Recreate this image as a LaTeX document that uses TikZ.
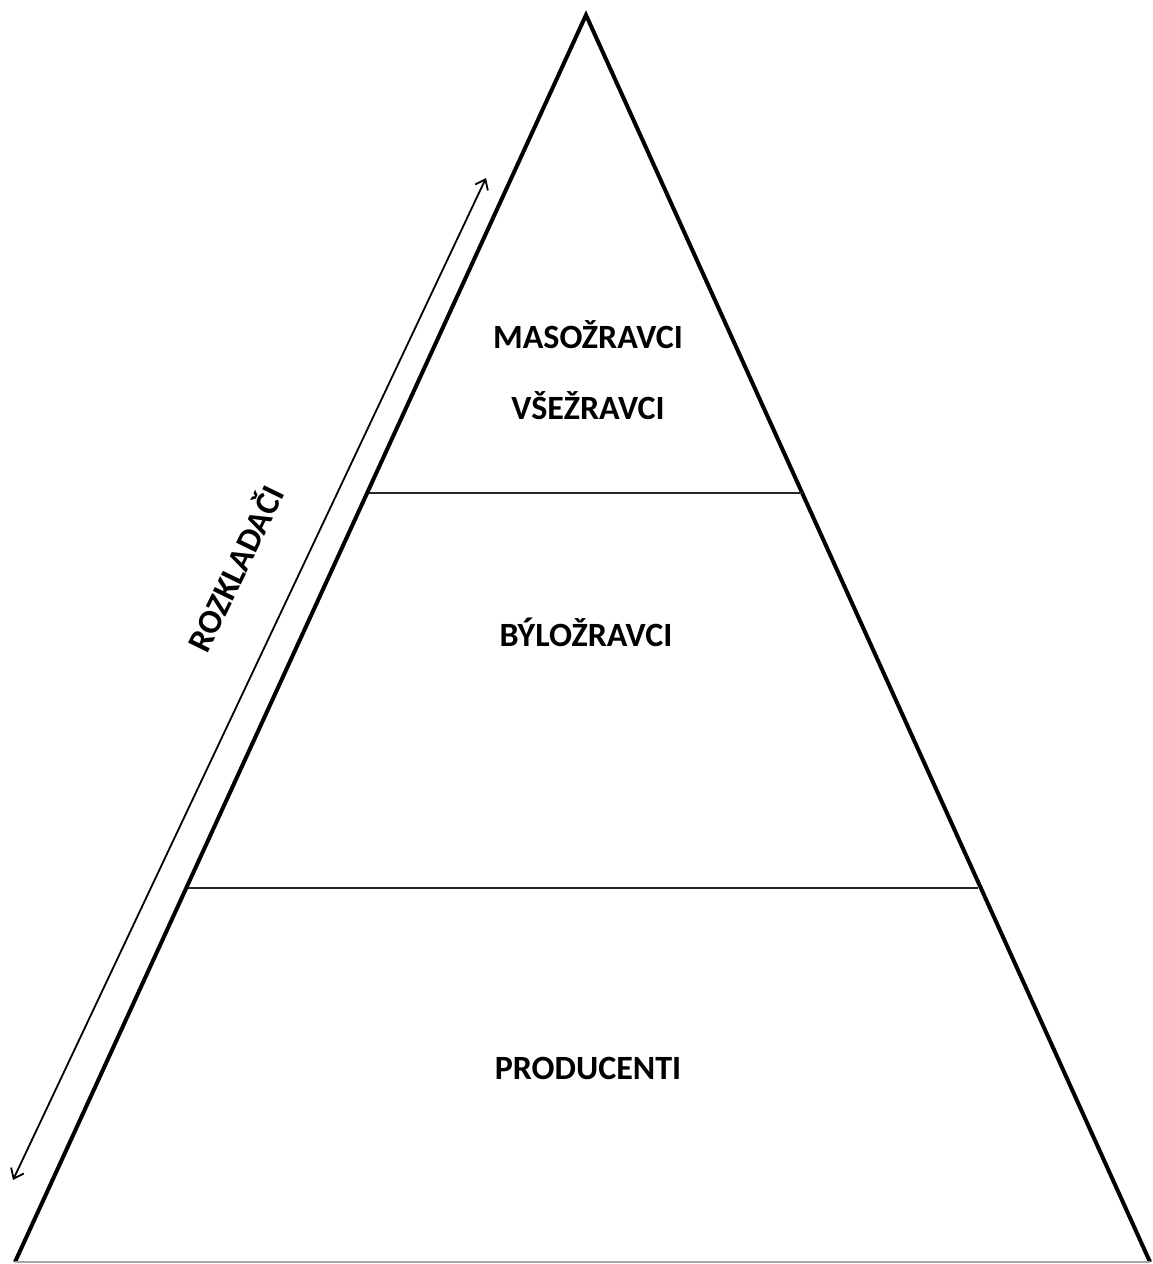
\documentclass[tikz,border=0pt]{standalone}
\usepackage{fontspec}
\setmainfont{Carlito}
\usetikzlibrary{arrows.meta}
\tikzset{every node/.style={draw=none,inner sep=0pt,font=\fontsize{34}{38}\selectfont\bfseries}}

\begin{document}
\begin{tikzpicture}[x=1pt,y=-1pt]
      \useasboundingbox (0,0) rectangle (1152,1264);
      \coordinate (top) at (586,15);
      \coordinate (bl) at (15,1262);
      \coordinate (br) at (1150,1262);
      \coordinate (l1) at (369,493);
      \coordinate (r1) at (803,493);
      \coordinate (l2) at (188,888);
      \coordinate (r2) at (978,888);
      \coordinate (up) at (486,178);
      \coordinate (down) at (13,1180);
      \node (maso) at (588,335) {MASOŽRAVCI};
      \node (vse) at (588,406) {VŠEŽRAVCI};
      \node (bylo) at (586,632) {BÝLOŽRAVCI};
      \node (prod) at (588,1068) {PRODUCENTI};
      \node[rotate=64] (rozk) at (234,568) {ROZKLADAČI};

\draw[line width=4pt,line join=miter] (bl) -- (top) -- (br);
\draw[gray!70,line width=1.5pt] (bl) -- (br);
\foreach \a/\b in {l1/r1,l2/r2}
  \draw[black!85,line width=2.2pt] (\a) -- (\b);
\draw[line width=1.8pt,{Straight Barb[length=9pt,width=14pt]}-{Straight Barb[length=9pt,width=14pt]}] (down) -- (up);
    \end{tikzpicture}
\end{document}
